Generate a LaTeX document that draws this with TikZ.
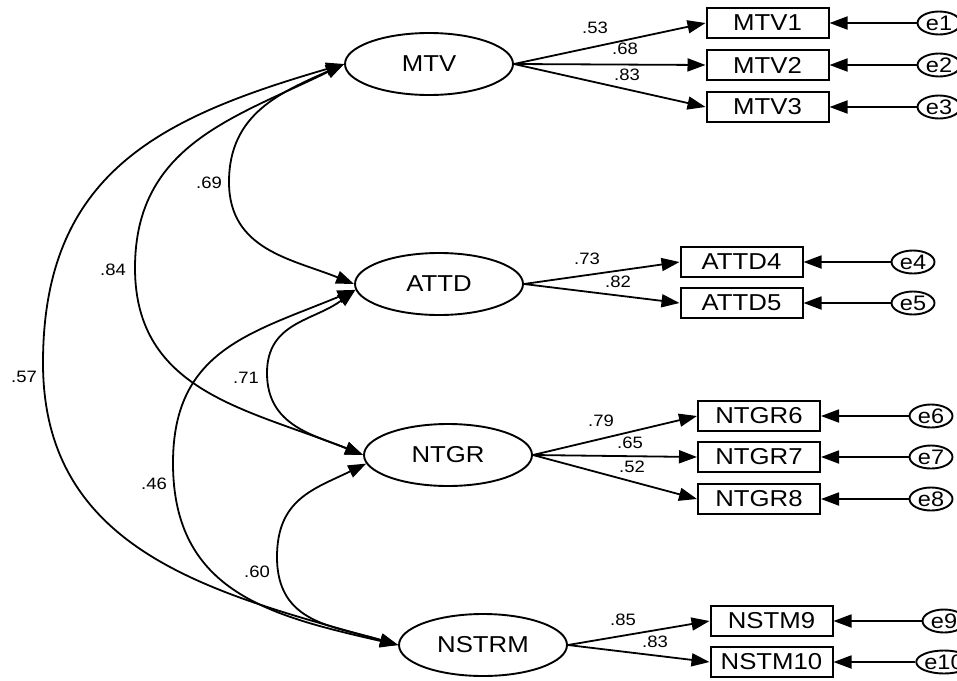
\documentclass[tikz,border=0pt]{standalone}
\usepackage{fontspec}
\setmainfont[FakeStretch=1.12]{Liberation Sans}
\usetikzlibrary{arrows.meta,shapes.geometric}

\begin{document}
\begin{tikzpicture}[x=1pt,y=-1pt,
  latent/.style={draw, ellipse, minimum width=168pt, minimum height=62pt, inner sep=0pt,
    line width=1.9pt, font=\fontsize{23}{24}\selectfont},
  obs/.style={draw, rectangle, minimum width=122pt, minimum height=30pt, inner sep=0pt,
    line width=2pt, font=\fontsize{23}{24}\selectfont},
  err/.style={draw, ellipse, minimum width=43pt, minimum height=23pt, inner sep=0pt,
    line width=1.9pt, font=\fontsize{21}{22}\selectfont},
  tip/.tip={Triangle[length=18pt,width=13pt]},
  load/.style={line width=1.8pt, -tip},
  cov/.style={line width=1.8pt, tip-tip},
  coef/.style={inner sep=0pt, font=\fontsize{16.5}{18}\selectfont}]
\useasboundingbox (0,0) rectangle (957,680);

% latent factors
\node[latent] (MTV)   at (429,64)  {MTV};
\node[latent] (ATTD)  at (439,284) {ATTD};
\node[latent] (NTGR)  at (448,455) {NTGR};
\node[latent] (NSTRM) at (483,645) {NSTRM};

% indicators
\node[obs] (MTV1) at (767.5,23)  {MTV1};
\node[obs] (MTV2) at (767.5,65)  {MTV2};
\node[obs] (MTV3) at (767.5,107) {MTV3};
\node[obs] (ATTD4) at (741.5,262) {ATTD4};
\node[obs] (ATTD5) at (741.5,303) {ATTD5};
\node[obs] (NTGR6) at (759,416) {NTGR6};
\node[obs] (NTGR7) at (759,457) {NTGR7};
\node[obs] (NTGR8) at (759,499) {NTGR8};
\node[obs] (NSTM9)  at (771.5,621) {NSTM9};
\node[obs] (NSTM10) at (771.5,662) {NSTM10};

% error terms
\node[err] (e1) at (939,23)  {e1};
\node[err] (e2) at (939,65)  {e2};
\node[err] (e3) at (939,107) {e3};
\node[err] (e4) at (913,262) {e4};
\node[err] (e5) at (913,303) {e5};
\node[err] (e6) at (931,416) {e6};
\node[err] (e7) at (931,457) {e7};
\node[err] (e8) at (931,499) {e8};
\node[err] (e9)  at (944,621) {e9};
\node[err] (e10) at (944,662) {e10};

% error paths
\foreach \e/\b in {e1/MTV1,e2/MTV2,e3/MTV3,e4/ATTD4,e5/ATTD5,e6/NTGR6,e7/NTGR7,e8/NTGR8,e9/NSTM9,e10/NSTM10}
  \draw[load] (\e.west) -- (\b.east);

% factor loadings
\foreach \b in {MTV1,MTV2,MTV3} \draw[load] (MTV.east) -- (\b.west);
\foreach \b in {ATTD4,ATTD5} \draw[load] (ATTD.east) -- (\b.west);
\foreach \b in {NTGR6,NTGR7,NTGR8} \draw[load] (NTGR.east) -- (\b.west);
\foreach \b in {NSTM9,NSTM10} \draw[load] (NSTRM.east) -- (\b.west);

\node[coef] (l1) at (595,28)  {.53};
\node[coef] (l2) at (625,49)  {.68};
\node[coef] (l3) at (627,75)  {.83};
\node[coef] (l4) at (587,259) {.73};
\node[coef] (l5) at (618,282) {.82};
\node[coef] (l6) at (601,421) {.79};
\node[coef] (l7) at (630,443) {.65};
\node[coef] (l8) at (632,467) {.52};
\node[coef] (l9) at (623,620) {.85};
\node[coef] (l10) at (655,642) {.83};

% correlations between factors (each arc passes through its leftmost point)
\draw[cov] (MTV.west) .. controls (282,92) and (229,113) .. (229,182)
                      .. controls (229,250) and (292,259) .. (ATTD.west);
\draw[cov] (MTV.west) .. controls (234,118) and (135,145) .. (135,268)
                      .. controls (135,392) and (248,409) .. (NTGR.west);
\draw[cov] (MTV.west) .. controls (162,117) and (43,172) .. (43,363)
                      .. controls (43,553) and (216,594) .. (NSTRM.west);
\draw[cov] (ATTD.184) .. controls (314,321) and (267,322) .. (267,373)
                      .. controls (267,426) and (314,435) .. (NTGR.west);
\draw[cov] (ATTD.184) .. controls (251,333) and (173,350) .. (173,463)
                      .. controls (173,593) and (272,616) .. (NSTRM.west);
\draw[cov] (NTGR.186) .. controls (314,489) and (277,499) .. (277,557)
                      .. controls (277,624) and (334,626) .. (NSTRM.west);

\node[coef] (r1) at (209,183) {.69};
\node[coef] (r2) at (113,270) {.84};
\node[coef] (r3) at (24,377)  {.57};
\node[coef] (r4) at (246,378) {.71};
\node[coef] (r5) at (154,484) {.46};
\node[coef] (r6) at (257,572) {.60};
\end{tikzpicture}
\end{document}
